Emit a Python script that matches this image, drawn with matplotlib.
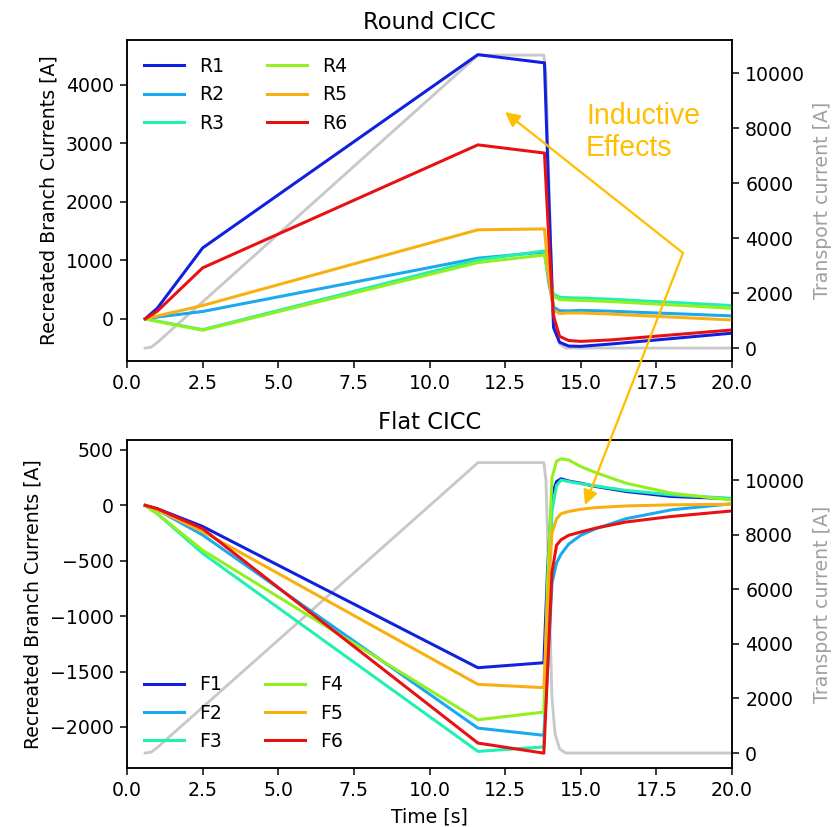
import matplotlib
matplotlib.use("Agg")
import matplotlib.pyplot as plt
from matplotlib.patches import FancyArrowPatch

# ---------------- data ----------------
t_transport = [0.6, 0.8, 1.0, 11.3, 11.6, 13.78, 13.85, 13.95, 14.05, 14.15, 14.3, 14.5, 20.0]
transport = [0, 30, 200, 10350, 10650, 10650, 10000, 6000, 2000, 700, 150, 0, 0]

t_round = [0.6, 1.0, 2.5, 11.6, 13.8, 13.95, 14.1, 14.3, 14.6, 15.0, 16.0, 20.0]
R1 = [0, 180, 1210, 4510, 4370, 2000, -150, -400, -465, -470, -430, -245]
R2 = [0, 30, 125, 1035, 1140, 600, 200, 140, 135, 145, 130, 50]
R3 = [0, -40, -185, 1005, 1160, 750, 420, 370, 360, 355, 335, 227]
R4 = [0, -45, -195, 960, 1090, 700, 380, 330, 320, 315, 295, 180]
R5 = [0, 50, 227, 1520, 1535, 700, 150, 90, 100, 100, 80, -20]
R6 = [0, 130, 870, 2970, 2830, 1300, 50, -300, -370, -385, -360, -190]

t_flat = [0.6, 1.0, 2.5, 11.6, 13.78, 13.9, 14.05, 14.2, 14.35, 14.6, 15.0, 15.5, 16.5, 18.0, 20.0]
F1 = [0, -30, -190, -1465, -1420, -600, 100, 215, 240, 220, 200, 170, 125, 80, 60]
F2 = [0, -40, -267, -2010, -2075, -1500, -700, -520, -440, -350, -270, -210, -120, -40, 15]
F3 = [0, -75, -433, -2220, -2180, -1000, -50, 180, 228, 215, 195, 175, 135, 95, 63]
F4 = [0, -75, -405, -1935, -1865, -700, 250, 400, 420, 410, 350, 295, 200, 110, 48]
F5 = [0, -40, -236, -1615, -1645, -900, -250, -120, -75, -55, -35, -20, -5, 5, 10]
F6 = [0, -30, -210, -2145, -2236, -1500, -600, -360, -310, -270, -240, -205, -150, -100, -50]

round_labels = ["R1", "R2", "R3", "R4", "R5", "R6"]
flat_labels = ["F1", "F2", "F3", "F4", "F5", "F6"]
colors = ["#1020e0", "#1aa8f0", "#20f0b0", "#90f020", "#f8b010", "#e81010"]
grey = "#c8c8c8"
accent = "#FFBF00"

plt.rcParams["font.family"] = ["DejaVu Sans"]

W, H = 837, 827
DPI = 136
fig = plt.figure(figsize=(W / DPI, H / DPI), dpi=DPI)

left, right = 127 / W, 732 / W
ax_top = fig.add_axes([left, 1 - 361 / H, right - left, (361 - 40) / H])
ax_bot = fig.add_axes([left, 1 - 768 / H, right - left, (768 - 440) / H])


def draw(ax, t, series, labels, title, ylim, ylim2, loc, xlabel=None):
    ax2 = ax.twinx()
    ax2.plot(t_transport, transport, color=grey, lw=1.5)
    ax2.set_ylabel("Transport current [A]", color="#a0a0a0")
    ax2.set_ylim(*ylim2)
    ax2.set_yticks([0, 2000, 4000, 6000, 8000, 10000])
    for s, lab, c in zip(series, labels, colors):
        ax.plot(t, s, color=c, lw=1.6, label=lab)
    ax.set_zorder(ax2.get_zorder() + 1)
    ax.patch.set_visible(False)
    ax.set_xlim(0, 20)
    ax.set_ylim(*ylim)
    ax.set_title(title)
    ax.set_ylabel("Recreated Branch Currents [A]")
    if xlabel:
        ax.set_xlabel(xlabel)
    ax.legend(loc=loc, ncol=2, frameon=False, handlelength=2.1,
              columnspacing=2.3)
    return ax2


draw(ax_top, t_round, [R1, R2, R3, R4, R5, R6], round_labels, "Round CICC",
     (-720, 4760), (-470, 11200), "upper left")
ax_top.set_yticks([0, 1000, 2000, 3000, 4000])

draw(ax_bot, t_flat, [F1, F2, F3, F4, F5, F6], flat_labels, "Flat CICC",
     (-2370, 590), (-550, 11480), "lower left", xlabel="Time [s]")
ax_bot.set_yticks([-2000, -1500, -1000, -500, 0, 500])

# annotation
fig.text(586 / W, 1 - 162 / H, "Inductive\nEffects", color=accent,
         fontsize=15.1, family=["Liberation Sans"], ha="left", va="bottom",
         linespacing=1.2)


def fp(x, y):
    return (x / W, 1 - y / H)


for head in [(505, 112), (585, 505)]:
    arr = FancyArrowPatch(fp(683, 253), fp(*head), transform=fig.transFigure,
                          arrowstyle="-|>", mutation_scale=16, color=accent,
                          lw=1.2, shrinkA=0, shrinkB=0, zorder=10)
    fig.add_artist(arr)

fig.savefig("out.png", dpi=DPI)
